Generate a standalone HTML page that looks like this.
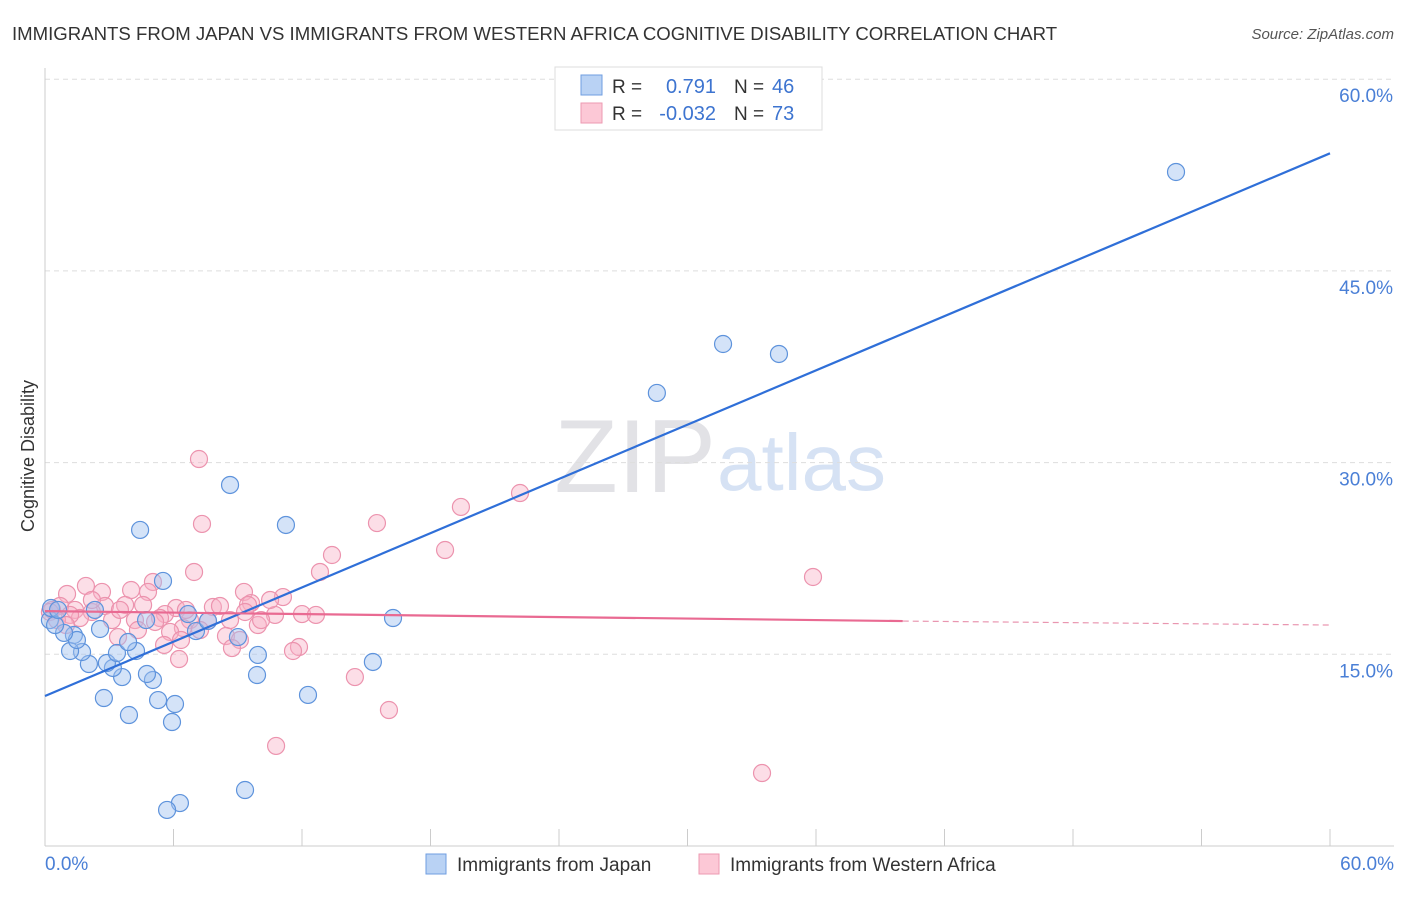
<!DOCTYPE html>
<html><head><meta charset="utf-8"><style>
body{margin:0;background:#fff;font-family:"Liberation Sans",sans-serif;}
svg text{font-family:"Liberation Sans",sans-serif;}
</style></head><body>
<svg id="chart" width="1406" height="892" viewBox="0 0 1406 892">
<text x="12" y="40" font-size="18.6" fill="#333">IMMIGRANTS FROM JAPAN VS IMMIGRANTS FROM WESTERN AFRICA COGNITIVE DISABILITY CORRELATION CHART</text>
<text x="1394" y="39" font-size="15" fill="#555" font-style="italic" text-anchor="end">Source: ZipAtlas.com</text>
<text x="716" y="492" font-size="104" fill="#e2e2e6" text-anchor="end" font-family="Liberation Serif">ZIP</text>
<text x="717" y="490" font-size="80" fill="#d6e2f4">atlas</text>
<g id="grid"></g>
<g id="axes"></g>
<g id="pts"></g>
<g id="trend"></g>
<text transform="translate(34,456) rotate(-90)" font-size="18" fill="#333" text-anchor="middle">Cognitive Disability</text>
<text x="45" y="870" font-size="19" fill="#4a7fd6">0.0%</text>
<text x="1394" y="870" font-size="19" fill="#4a7fd6" text-anchor="end">60.0%</text>
<g>
<rect x="555" y="67" width="267" height="63" fill="#fff" stroke="#ddd"/>
<rect x="581" y="75" width="21" height="20" fill="#b9d2f4" stroke="#6f9ee0"/>
<rect x="581" y="103" width="21" height="20" fill="#fcc8d6" stroke="#ec9ab2"/>
<text x="612" y="93" font-size="19" fill="#333">R =</text><text x="716" y="93" font-size="20" fill="#3d74d0" text-anchor="end">0.791</text>
<text x="734" y="93" font-size="19" fill="#333">N =</text><text x="772" y="93" font-size="20" fill="#3d74d0">46</text>
<text x="612" y="120" font-size="19" fill="#333">R =</text><text x="716" y="120" font-size="20" fill="#3d74d0" text-anchor="end">-0.032</text>
<text x="734" y="120" font-size="19" fill="#333">N =</text><text x="772" y="120" font-size="20" fill="#3d74d0">73</text>
</g>
<g><rect x="426" y="854" width="20" height="20" fill="#b9d2f4" stroke="#6f9ee0"/><text x="457" y="871" font-size="19" fill="#333">Immigrants from Japan</text></g>
<g><rect x="699" y="854" width="20" height="20" fill="#fcc8d6" stroke="#ec9ab2"/><text x="730" y="871" font-size="19" fill="#333">Immigrants from Western Africa</text></g>
</svg>
<script>
const yTicks=[15,30,45,60];
const yTickLabels=["15.0%","30.0%","45.0%","60.0%"];
const xTicks=[0,6,12,18,24,30,36,42,48,54,60];
const japanX=[52.81,31.66,34.27,28.57,8.64,4.44,11.25,5.51,16.25,15.31,9.94,9.90,12.28,9.34,6.30,5.70,5.93,6.07,5.28,3.92,2.75,5.04,4.76,3.60,3.17,2.89,2.05,1.73,1.17,4.25,3.36,3.88,2.57,1.35,1.49,0.89,0.23,0.47,0.28,0.61,2.33,4.72,6.68,7.05,7.61,9.01];
const japanY=[52.74,39.28,38.50,35.45,28.25,24.73,25.12,20.74,17.84,14.40,14.95,13.38,11.82,4.38,3.36,2.82,9.70,11.11,11.42,10.25,11.58,12.99,13.46,13.22,13.93,14.32,14.24,15.18,15.26,15.26,15.10,15.96,16.98,16.51,16.12,16.67,17.68,17.29,18.62,18.47,18.47,17.68,18.15,16.82,17.61,16.35];
const wafX=[7.19,22.18,19.42,15.50,7.33,18.68,13.40,12.84,6.96,35.86,5.04,1.91,1.03,2.66,4.02,4.81,9.29,11.11,9.62,7.84,8.17,6.12,5.60,4.58,3.74,2.80,2.19,1.40,0.70,0.33,12.00,12.65,10.74,9.48,6.77,5.37,5.14,4.20,3.13,1.63,1.17,8.64,9.94,10.09,7.61,6.44,3.41,4.34,5.84,8.45,9.10,8.73,11.86,11.58,6.35,5.56,6.26,14.47,16.06,10.79,33.48,0.23,0.56,0.98,6.58,3.50,9.34,7.24,10.51,2.19];
const wafY=[30.28,27.62,26.53,25.27,25.20,23.16,22.77,21.44,21.44,21.05,20.66,20.35,19.72,19.88,20.03,19.88,19.88,19.48,19.01,18.70,18.78,18.62,18.15,18.86,18.86,18.78,18.31,18.47,18.78,18.47,18.15,18.08,18.08,18.86,17.68,17.84,17.53,17.68,17.68,17.84,18.08,17.68,17.29,17.68,17.61,17.06,16.35,16.90,16.75,16.43,16.12,15.49,15.57,15.26,16.12,15.73,14.63,13.22,10.64,7.83,5.71,18.31,17.68,17.29,18.47,18.47,18.31,16.90,19.25,19.25];
const japanTrend=[11.74,54.2];
const wafTrend=[18.38,17.6,17.29];
const wafSolidEnd=40.05;
const NS="http://www.w3.org/2000/svg";
const X=v=>45+v/60*1285, Y=v=>846-v/15*191.7;
function mk(tag,attrs,parent){const e=document.createElementNS(NS,tag);for(const k in attrs)e.setAttribute(k,attrs[k]);parent.appendChild(e);return e;}
const grid=document.getElementById('grid'),axes=document.getElementById('axes'),pts=document.getElementById('pts'),tr=document.getElementById('trend');
yTicks.forEach((t,i)=>{
 const l=mk('line',{x1:45,x2:1394,y1:Y(t),y2:Y(t),stroke:'#ddd','stroke-dasharray':'5,4'},grid);
 
 
 const tx=mk('text',{x:1393,y:Y(t)+23,'font-size':19,fill:'#4a7fd6','text-anchor':'end'},grid);
 tx.textContent=yTickLabels[i];
 
 
});
const ya=mk('line',{x1:45,x2:45,y1:68,y2:846,stroke:'#ccc'},axes);


const xa=mk('line',{x1:45,x2:1394,y1:846,y2:846,stroke:'#ccc'},axes);


xTicks.forEach(t=>{
 const l=mk('line',{x1:X(t),x2:X(t),y1:829,y2:846,stroke:'#ccc'},axes);
 
 
});
wafX.forEach((v,i)=>{
 const c=mk('circle',{cx:X(v),cy:Y(wafY[i]),r:8.5,fill:'rgba(248,176,198,0.42)',stroke:'#ec93ae','stroke-width':1.2},pts);
 
 
});
japanX.forEach((v,i)=>{
 const c=mk('circle',{cx:X(v),cy:Y(japanY[i]),r:8.5,fill:'rgba(160,194,240,0.45)',stroke:'#5e93dc','stroke-width':1.2},pts);
 
 
});
const bl=mk('line',{x1:X(0),y1:Y(japanTrend[0]),x2:X(60),y2:Y(japanTrend[1]),stroke:'#2f6fd8','stroke-width':2.2},tr);


const pl=mk('line',{x1:X(0),y1:Y(wafTrend[0]),x2:X(wafSolidEnd),y2:Y(wafTrend[1]),stroke:'#e96a92','stroke-width':2.2},tr);


const pd=mk('line',{x1:X(wafSolidEnd),y1:Y(wafTrend[1]),x2:X(60),y2:Y(wafTrend[2]),stroke:'#e996b0','stroke-width':1.2,'stroke-dasharray':'6,4'},tr);


</script>
</body></html>
